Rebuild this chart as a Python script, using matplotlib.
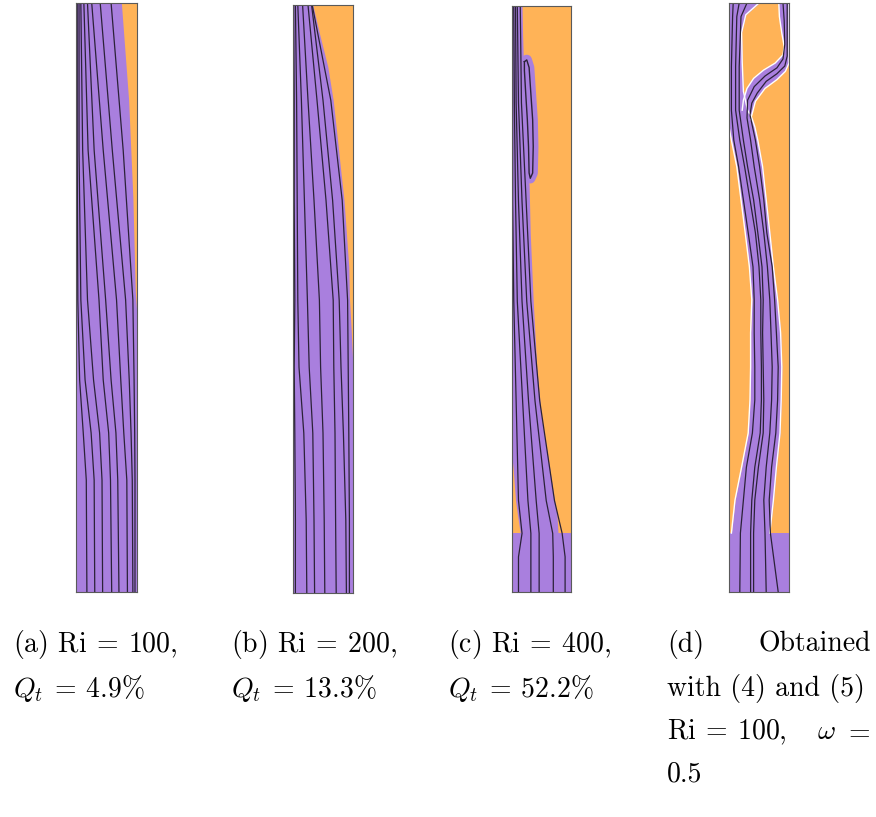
import numpy as np
import matplotlib.pyplot as plt

plt.rcParams['mathtext.fontset'] = 'cm'

PURPLE = '#a97fde'
ORANGE = '#ffb357'
LINE = '#2b2238'
FRAME = '#5a5a5a'

# (a) Ri = 100 : orange wedge right of interface
A_IFACE_Y = [4.8, 5.1, 6.7, 8.35, 10.0]
A_IFACE_X = [1.0, 0.98, 0.94, 0.87, 0.75]
A_STREAM_Y = [0, 1.9, 2.7, 3.6, 4.96, 7.5, 10]
A_STREAM_X = [
    [.18, .17, .12, .06, .03, .02, .02],
    [.31, .30, .25, .15, .08, .05, .05],
    [.44, .43, .39, .29, .19, .11, .08],
    [.59, .57, .54, .45, .38, .20, .13],
    [.71, .69, .66, .58, .49, .30, .19],
    [.85, .84, .79, .74, .67, .45, .26],
    [.94, .93, .91, .88, .82, .60, .40],
    [.975, .975, .97, .96, .94, .78, .58],
]

# (b) Ri = 200
B_IFACE_Y = [3.84, 4.47, 5.03, 5.54, 6.12, 6.68, 7.24, 7.82, 8.38, 8.95, 9.52, 10.0]
B_IFACE_X = [1.0, 0.97, 0.94, 0.93, 0.89, 0.85, 0.79, 0.73, 0.67, 0.58, 0.44, 0.33]
B_STREAM_Y = [0, 1.24, 2.72, 3.84, 4.98, 6.68, 8.38, 10.0]
B_STREAM_X = [
    [.04, .04, .03, .02, .03, .02, .02, .01],
    [.23, .22, .18, .10, .08, .07, .06, .04],
    [.36, .35, .33, .27, .24, .19, .14, .08],
    [.53, .52, .50, .46, .44, .35, .25, .16],
    [.72, .71, .70, .68, .67, .55, .40, .25],
    [.89, .88, .84, .80, .77, .66, .50, .31],
    [.94, .94, .93, .92, .91, .82, .63, .32],
]

# (c) Ri = 400
C_INLET = 1.0
C_JET_Y = [1.0, 1.34, 1.56, 2.1, 2.3, 2.97, 3.82, 4.96, 6.1, 6.94, 7.3, 8.5, 9.5, 10.0]
C_JET_L = [0.14, 0.09, 0.06, 0.02, 0.0, 0, 0, 0, 0, 0, 0, 0, 0, 0]
C_JET_R = [0.78, 0.76, 0.72, 0.64, 0.61, 0.50, 0.42, 0.36, 0.31, 0.29, 0.25, 0.21, 0.18, 0.17]
C_BUB_X = [0.21, 0.25, 0.29, 0.32, 0.35, 0.36, 0.35, 0.31, 0.29, 0.28, 0.26, 0.23, 0.21, 0.21]
C_BUB_Y = [9.05, 9.08, 8.95, 8.5, 8.06, 7.6, 7.15, 7.06, 7.15, 7.6, 8.06, 8.55, 8.9, 9.05]
C_STREAM_Y = [0, 0.6, 1.0, 1.56, 3.26, 4.96, 6.66, 8.35, 10]
C_STREAM_X = [
    [.11, .11, .17, .11, .07, .03, .01, .01, .01],
    [.32, .32, .32, .27, .18, .09, .06, .04, .03],
    [.46, .46, .46, .41, .28, .17, .11, .07, .06],
    [.70, .70, .69, .58, .39, .25, .17, .11, .09],
    [.90, .90, .85, .72, .47, .32, .24, .16, .14],
]

# (d) Ri = 100, omega = 0.5
D_INLET = 1.0
D_JET_Y = [1.0, 1.56, 2.12, 2.7, 3.26, 3.82, 4.4, 4.96, 5.52, 6.1, 6.66, 7.22,
           7.67, 7.9, 8.05, 8.18, 8.5, 9.0, 9.5, 9.8, 10.0]
D_JET_L = [0.04, 0.10, 0.21, 0.32, 0.35, 0.36, 0.36, 0.38, 0.34, 0.27, 0.20, 0.13,
           0.04, 0, 0, 0, 0, 0, 0, 0, 0]
D_JET_R = [0.68, 0.74, 0.79, 0.85, 0.87, 0.88, 0.86, 0.81, 0.74, 0.68, 0.62, 0.56,
           0.48, 0.43, 0.38, 0.31, 0.24, 0.22, 0.21, 0.28, 0.50]
D_BRANCH_X = [0.36, 0.44, 0.60, 0.80, 0.94, 1.0, 1.0, 0.83, 0.84, 0.88, 0.92, 0.90,
              0.77, 0.575, 0.41, 0.30, 0.24, 0.22]
D_BRANCH_Y = [8.02, 8.33, 8.55, 8.70, 8.84, 8.98, 10.0, 10.0, 9.77, 9.49, 9.26, 9.12,
              8.98, 8.86, 8.72, 8.55, 8.35, 8.18]
D_LOW_Y = [0, 1.0, 1.56, 2.12, 2.7, 3.26, 3.82, 4.4, 4.96, 5.52, 6.1, 6.66, 7.22, 7.67]
D_LEFT_Y = [8.18, 8.92, 9.77, 10.0]
D_STREAM_LOW = [
    [.18, .19, .24, .29, .39, .43, .43, .42, .42, .40, .32, .24, .16, .08],
    [.36, .36, .38, .43, .52, .54, .54, .53, .53, .50, .44, .35, .26, .18],
    [.41, .41, .43, .49, .57, .58, .57, .56, .57, .55, .48, .41, .31, .24],
    [.62, .60, .58, .62, .68, .71, .72, .70, .68, .64, .58, .51, .42, .36],
    [.82, .69, .67, .71, .78, .81, .82, .79, .76, .72, .63, .58, .51, .44],
]
D_STREAM_LEFT = [
    [.04, .04, .06, .07],
    [.11, .11, .13, .17],
    [.17, .17, .20, .30],
]
D_STREAM_RIGHT_X = [
    [0.30, 0.31, 0.42, 0.60, 0.80, 0.90, 0.93, 0.92, 0.90],
    [0.35, 0.38, 0.47, 0.62, 0.80, 0.93, 0.97, 0.97, 0.97],
]
D_STREAM_RIGHT_Y = [
    [8.05, 8.35, 8.58, 8.76, 8.90, 9.05, 9.3, 9.7, 10.0],
    [8.10, 8.30, 8.47, 8.67, 8.80, 8.93, 9.1, 9.6, 10.0],
]

W, H = 876, 817
fig = plt.figure(figsize=(W / 100, H / 100), dpi=100)


def add_panel(x0, y0, x1, y1):
    ax = fig.add_axes([x0 / W, 1 - y1 / H, (x1 - x0) / W, (y1 - y0) / H])
    ax.set_xlim(0, 1)
    ax.set_ylim(0, 10)
    ax.set_xticks([])
    ax.set_yticks([])
    for s in ax.spines.values():
        s.set_color(FRAME)
        s.set_linewidth(0.8)
    return ax


def streams(ax, ys, lines):
    for xs in lines:
        ax.plot(xs, ys, color=LINE, lw=0.9)


# (a)
ax = add_panel(76, 3, 136.5, 592)
ax.set_facecolor(PURPLE)
ax.fill_betweenx(A_IFACE_Y, A_IFACE_X, 1, color=ORANGE, lw=0)
streams(ax, A_STREAM_Y, A_STREAM_X)

# (b)
ax = add_panel(293, 5, 353, 593)
ax.set_facecolor(PURPLE)
ax.fill_betweenx(B_IFACE_Y, B_IFACE_X, 1, color=ORANGE, lw=0)
streams(ax, B_STREAM_Y, B_STREAM_X)

# (c)
ax = add_panel(512, 6, 571, 592)
ax.set_facecolor(ORANGE)
ax.axhspan(0, C_INLET, color=PURPLE, lw=0)
ax.fill_betweenx(C_JET_Y, C_JET_L, C_JET_R, color=PURPLE, lw=0)
ax.fill(C_BUB_X, C_BUB_Y, color=PURPLE, lw=0)
ax.plot(C_BUB_X, C_BUB_Y, color=PURPLE, lw=7.5, solid_joinstyle='round')
streams(ax, C_STREAM_Y, C_STREAM_X)
ax.plot(C_BUB_X, C_BUB_Y, color=LINE, lw=1.0)

# (d)
ax = add_panel(729, 3, 789, 592)
ax.set_facecolor(ORANGE)
ax.plot(D_JET_L, D_JET_Y, color='white', lw=1.0)
ax.plot(D_JET_R, D_JET_Y, color='white', lw=1.0)
ax.plot(D_BRANCH_X, D_BRANCH_Y, color='white', lw=1.0)
ax.axhspan(0, D_INLET, color=PURPLE, lw=0)
ax.fill_betweenx(D_JET_Y, D_JET_L, D_JET_R, color=PURPLE, lw=0)
ax.fill(D_BRANCH_X, D_BRANCH_Y, color=PURPLE, lw=0)
for i, xs in enumerate(D_STREAM_LOW):
    if i < 3:
        ax.plot(xs + D_STREAM_LEFT[i], D_LOW_Y + D_LEFT_Y, color=LINE, lw=0.9)
    else:
        j = i - 3
        ax.plot(xs + D_STREAM_RIGHT_X[j], D_LOW_Y + D_STREAM_RIGHT_Y[j],
                color=LINE, lw=0.9)

# captions
FS = 20
CM = 'cmr10'


def cap(x, y, s, ha='left'):
    fig.text(x / W, 1 - y / H, s, fontsize=FS, family=CM, ha=ha, va='baseline')


cap(13, 652, r'(a) $\mathrm{Ri}\:=\:100$,')
cap(13, 697, r'$Q_t\:=\:4.9\%$')
cap(231, 652, r'(b) $\mathrm{Ri}\:=\:200$,')
cap(231, 697, r'$Q_t\:=\:13.3\%$')
cap(448, 652, r'(c) $\mathrm{Ri}\:=\:400$,')
cap(448, 697, r'$Q_t\:=\:52.2\%$')
cap(667, 652, '(d)')
cap(871, 652, 'Obtained', ha='right')
cap(667, 696, 'with (4) and (5)')
cap(667, 739, r'$\mathrm{Ri}\:=\:100$,')
cap(817, 739, r'$\omega$')
cap(871, 739, r'$=$', ha='right')
cap(667, 781, '0.5')

fig.savefig('out.png', dpi=100)
